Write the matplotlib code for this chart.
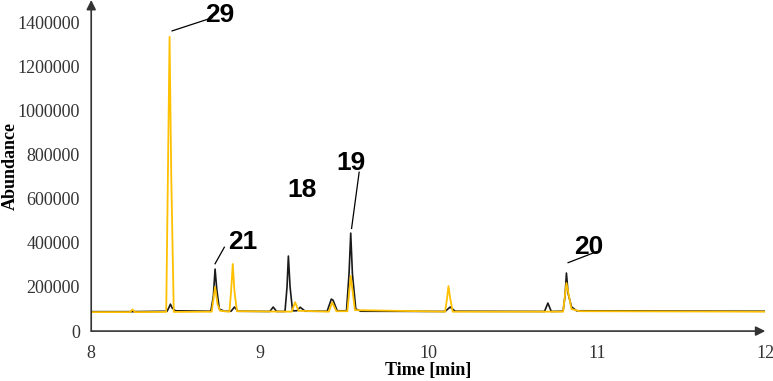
import matplotlib
matplotlib.use("Agg")
import matplotlib.pyplot as plt

# Black trace (time [min], abundance)
black_t = [8.00, 8.23, 8.45, 8.462, 8.47, 8.48, 8.50, 8.71, 8.725, 8.735, 8.745, 8.76, 8.79,
           8.83, 8.85, 8.87, 9.06, 9.08, 9.10, 9.15, 9.162, 9.17, 9.18, 9.195, 9.22, 9.24,
           9.27, 9.40, 9.425, 9.435, 9.46, 9.515, 9.53, 9.54, 9.55, 9.57, 9.60, 10.10, 10.13,
           10.16, 10.69, 10.71, 10.73, 10.80, 10.812, 10.82, 10.83, 10.85, 10.88, 12.00]
black_y = [88000, 88000, 90000, 108000, 122000, 105000, 92000, 90000, 160000, 281000, 190000, 100000, 90000,
           90000, 109000, 90000, 89000, 109000, 89000, 89000, 200000, 340000, 200000, 92000, 92000, 108000,
           90000, 90000, 145000, 140000, 92000, 92000, 260000, 444000, 260000, 100000, 90000, 89000, 109000,
           90000, 89000, 127000, 89000, 90000, 160000, 263000, 170000, 110000, 92000, 90000]

# Orange trace (time [min], abundance)
orange_t = [8.00, 8.23, 8.245, 8.26, 8.445, 8.455, 8.465, 8.475, 8.49, 8.715, 8.735, 8.75,
            8.765, 8.82, 8.83, 8.84, 8.85, 8.865, 9.19, 9.21, 9.23, 9.41, 9.43, 9.455,
            9.52, 9.54, 9.565, 10.10, 10.112, 10.12, 10.13, 10.145, 10.80, 10.82, 10.85,
            10.90, 12.00]
orange_y = [86000, 86000, 98000, 86000, 87000, 700000, 1333000, 700000, 87000, 88000, 200000, 120000,
            92000, 88000, 180000, 304000, 180000, 90000, 88000, 131000, 92000, 88000, 130000, 90000,
            90000, 250000, 95000, 88000, 150000, 204000, 150000, 88000, 88000, 218000, 100000,
            90000, 88000]

x_ticks = [8, 9, 10, 11, 12]
y_ticks = [0, 200000, 400000, 600000, 800000, 1000000, 1200000, 1400000]

# Peak labels: text, text position (data), leader start / end (data) or None
labels = ["29", "21", "18", "19", "20"]
label_pos = [(8.76, 1430000), (8.90, 405000), (9.25, 640000), (9.54, 760000), (10.95, 380000)]
leader_from = [(8.48, 1360000), (8.735, 305000), None, (9.545, 465000), (10.83, 310000)]
leader_to = [(8.72, 1420000), (8.79, 380000), None, (9.59, 720000), (11.0, 360000)]

fig = plt.figure(figsize=(7.73, 3.81), dpi=100)
ax = fig.add_axes([0.118, 0.131, 0.872, 0.869])

ax.plot(black_t, black_y, color="#1a1a1a", lw=1.2, zorder=2)
ax.plot(orange_t, orange_y, color="#FFC000", lw=1.3, zorder=3)

ax.set_xlim(8, 12)
ax.set_ylim(0, 1500000)
ax.set_xticks(x_ticks)
ax.set_yticks(y_ticks)
ax.set_xticklabels([str(v) for v in x_ticks])
ax.set_yticklabels([str(v) for v in y_ticks])
for s in ax.spines.values():
    s.set_visible(False)
ax.tick_params(length=0, labelsize=13, colors="#333333")
ax.tick_params(axis="y", pad=8)
ax.tick_params(axis="x", pad=10)
for lab in ax.get_xticklabels() + ax.get_yticklabels():
    lab.set_fontfamily("Liberation Serif")

# Arrow axes
ax.annotate("", xy=(1.0, 0), xytext=(0, 0), xycoords="axes fraction",
            arrowprops=dict(arrowstyle="-|>", color="#333333", lw=1.2,
                            mutation_scale=14, shrinkA=0, shrinkB=0), annotation_clip=False)
ax.annotate("", xy=(0, 1.0), xytext=(0, 0), xycoords="axes fraction",
            arrowprops=dict(arrowstyle="-|>", color="#333333", lw=1.2,
                            mutation_scale=14, shrinkA=0, shrinkB=0), annotation_clip=False)

ax.set_xlabel("Time [min]", fontfamily="Liberation Serif", fontweight="bold", fontsize=13)
ax.set_ylabel("Abundance", fontfamily="Liberation Serif", fontweight="bold", fontsize=13)
ax.xaxis.set_label_coords(0.5, -0.093)
ax.yaxis.set_label_coords(-0.108, 0.5)

for txt, pos, a, b in zip(labels, label_pos, leader_from, leader_to):
    ax.text(pos[0], pos[1], txt, fontfamily="Liberation Sans", fontweight="bold",
            fontsize=19, ha="center", va="center", color="black", clip_on=False)
    if a is not None:
        ax.plot([a[0], b[0]], [a[1], b[1]], color="black", lw=0.9, clip_on=False)

fig.savefig("out.png", dpi=100)
